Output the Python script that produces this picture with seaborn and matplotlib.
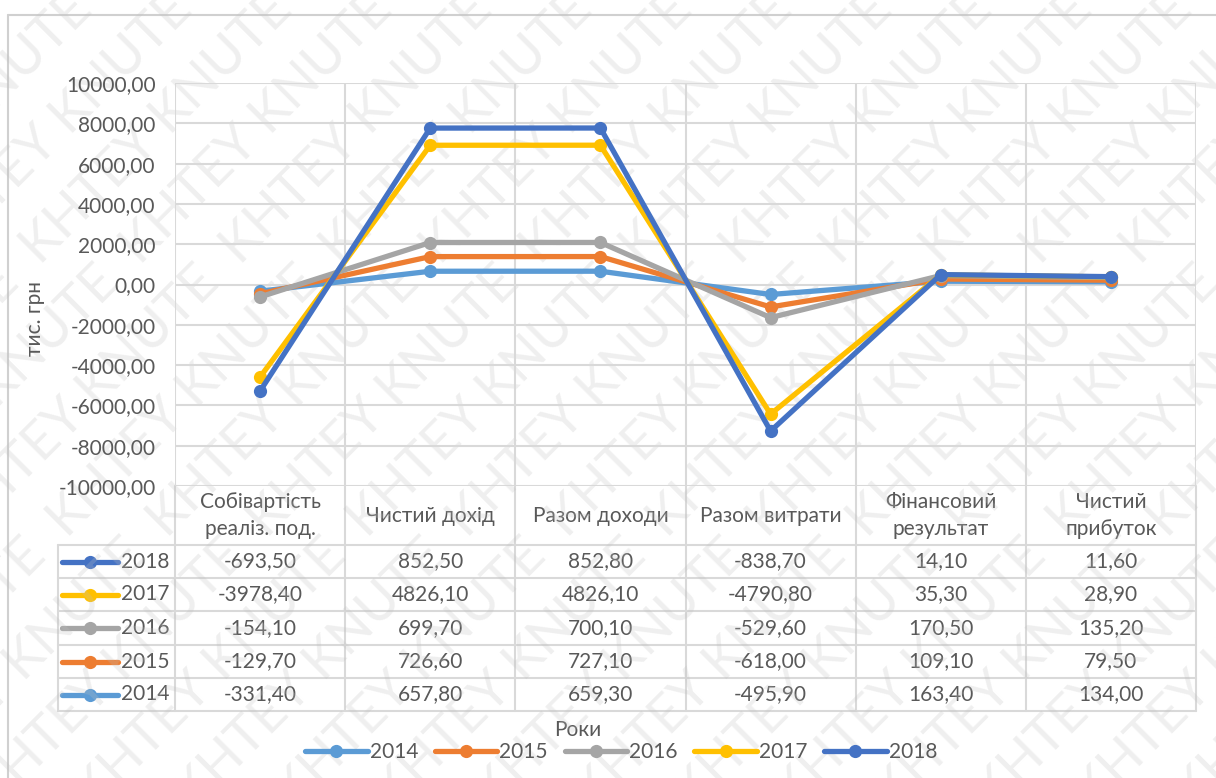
import numpy as np
import pandas as pd
import seaborn as sns
import matplotlib.pyplot as plt
from matplotlib.transforms import blended_transform_factory
from matplotlib.ticker import FuncFormatter

categories = ['Собівартість\nреаліз. под.', 'Чистий дохід', 'Разом доходи',
              'Разом витрати', 'Фінансовий\nрезультат', 'Чистий\nприбуток']
years = ['2014', '2015', '2016', '2017', '2018']
v2014 = [-331.40, 657.80, 659.30, -495.90, 163.40, 134.00]
v2015 = [-129.70, 726.60, 727.10, -618.00, 109.10, 79.50]
v2016 = [-154.10, 699.70, 700.10, -529.60, 170.50, 135.20]
v2017 = [-3978.40, 4826.10, 4826.10, -4790.80, 35.30, 28.90]
v2018 = [-693.50, 852.50, 852.80, -838.70, 14.10, 11.60]
colors = ['#5B9BD5', '#ED7D31', '#A5A5A5', '#FFC000', '#4472C4']
watermark = 'KHTEY KNUTE'

series = [v2014, v2015, v2016, v2017, v2018]
# stacked line chart -> cumulative sums
cum = np.cumsum(np.array(series), axis=0)
rows = []
for yi, y in enumerate(years):
    for ci in range(len(categories)):
        rows.append({'pos': ci, 'year': y, 'value': cum[yi, ci]})
df = pd.DataFrame(rows)

sns.set_style('white')
plt.rcParams['font.family'] = ['Lato', 'DejaVu Sans']
txt = '#595959'
grid = '#d9d9d9'
fs = 15

W, H = 1216, 778
L, R, T, B = 175, 1196, 83, 486
fig = plt.figure(figsize=(W / 100, H / 100), dpi=100)

ov = fig.add_axes([0, 0, 1, 1])
ov.set_xlim(0, W)
ov.set_ylim(H, 0)
ov.axis('off')

ax = fig.add_axes([L / W, 1 - B / H, (R - L) / W, (B - T) / H])
ax.set_facecolor('none')
sns.lineplot(data=df, x='pos', y='value', hue='year', hue_order=years,
             palette=colors, marker='o', markersize=9.5, markeredgewidth=0,
             linewidth=3.8, legend=False, ax=ax)
ax.set_xlim(-0.5, len(categories) - 0.5)
ax.set_ylim(-10000, 10000)
ax.set_yticks(np.arange(-10000, 10001, 2000))
ax.yaxis.set_major_formatter(FuncFormatter(lambda v, p: f'{v:.2f}'.replace('.', ',')))
ax.set_xticks(np.arange(-0.5, len(categories), 1.0))
ax.set_xticklabels([])
ax.tick_params(length=0, labelsize=fs, labelcolor=txt, pad=14)
ax.grid(True, color=grid, linewidth=1.5)
for s in ax.spines.values():
    s.set_visible(False)
ax.set_xlabel('')
ax.set_ylabel('тис. грн', fontsize=fs, color=txt)
ax.yaxis.set_label_coords(-0.127, 0.415)

# data table below the plot
tr = blended_transform_factory(ax.transData, ov.transData)
row_edges = [545, 578, 611, 645, 678, 711]
for xb in np.arange(-0.5, len(categories), 1.0):
    ov.plot([xb, xb], [B, row_edges[-1]], color=grid, lw=1.5, transform=tr)
ov.plot([58, 58], [row_edges[0], row_edges[-1]], color=grid, lw=1.5)
for ye in row_edges:
    ov.plot([58, R], [ye, ye], color=grid, lw=1.5)
for ci, c in enumerate(categories):
    ov.text(ci, (B + row_edges[0]) / 2, c, transform=tr, ha='center', va='center',
            fontsize=fs, color=txt, linespacing=1.45)
for ri, yi in enumerate(range(len(years) - 1, -1, -1)):
    yc = (row_edges[ri] + row_edges[ri + 1]) / 2
    ov.plot([62, 118], [yc, yc], color=colors[yi], lw=3.8, solid_capstyle='round')
    ov.plot([90], [yc], 'o', color=colors[yi], ms=9.5, mew=0)
    ov.text(121, yc, years[yi], ha='left', va='center', fontsize=fs, color=txt)
    for ci in range(len(categories)):
        ov.text(ci, yc, f'{series[yi][ci]:.2f}'.replace('.', ','), transform=tr,
                ha='center', va='center', fontsize=fs, color=txt)

ov.text(578, 730, 'Роки', ha='center', va='center', fontsize=fs, color=txt)

# chart area border
ov.plot([8, W], [15, 15], color='#d0d0d0', lw=1.5)
ov.plot([8, 8], [15, H], color='#d0d0d0', lw=1.5)

handles = [plt.Line2D([], [], color=c, lw=3.8, marker='o', ms=9.5, mew=0) for c in colors]
fig.legend(handles, years, loc='center', bbox_to_anchor=(621 / W, 1 - 752 / H),
           ncol=5, frameon=False, fontsize=fs, handlelength=3.0, handletextpad=0.1,
           columnspacing=0.8, labelcolor=txt)

# watermark, clipped to the figure
wm = '  '.join([watermark] * 4)
for x0 in range(-1300, 1300, 100):
    ov.text(x0, H + 40, wm, rotation=45, rotation_mode='anchor', fontsize=38,
            color='#c0c0c0', alpha=0.25, ha='left', va='bottom', zorder=10,
            clip_on=True)

fig.savefig('out.png', dpi=100)
